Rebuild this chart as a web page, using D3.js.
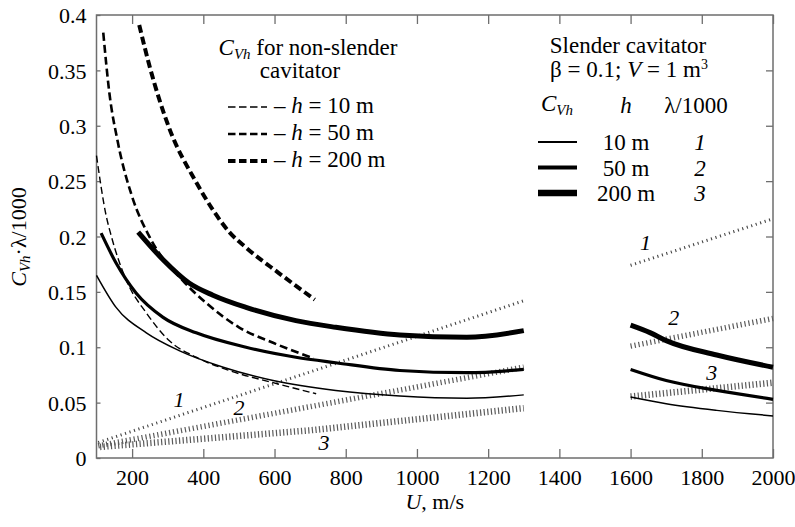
<!DOCTYPE html>
<html>
<head>
<meta charset="utf-8">
<script src="https://cdn.jsdelivr.net/npm/d3@7"></script>
<style>
  body { margin: 0; background: #fff; }
</style>
</head>
<body>
<div id="chart"></div>
<script>
// ---- data ----
const xTicks = [200, 400, 600, 800, 1000, 1200, 1400, 1600, 1800, 2000];
const yTicks = [0, 0.05, 0.1, 0.15, 0.2, 0.25, 0.3, 0.35, 0.4];

// slender cavitator C_Vh (solid), two segments each
const slender10a  = [[100,0.165],[155,0.136],[240,0.113],[332,0.097],[456,0.082],[596,0.070],[772,0.061],[952,0.056],[1140,0.054],[1300,0.057]];
const slender10b  = [[1600,0.055],[1700,0.049],[1842,0.043],[2000,0.038]];
const slender50a  = [[113,0.203],[155,0.176],[211,0.149],[287,0.127],[380,0.113],[520,0.100],[660,0.091],[772,0.086],[952,0.079],[1140,0.077],[1300,0.080]];
const slender50b  = [[1600,0.080],[1700,0.070],[1842,0.061],[2000,0.053]];
const slender200a = [[217,0.204],[287,0.179],[360,0.158],[427,0.147],[520,0.136],[660,0.124],[772,0.118],[952,0.111],[1140,0.109],[1300,0.115]];
const slender200b = [[1600,0.120],[1656,0.113],[1700,0.106],[1842,0.093],[2000,0.082]];

// non-slender cavitator C_Vh (dashed)
const blunt10  = [[100,0.273],[127,0.219],[141,0.201],[183,0.161],[240,0.131],[304,0.106],[380,0.091],[473,0.079],[596,0.068],[717,0.058]];
const blunt50  = [[119,0.384],[136,0.330],[160,0.285],[200,0.236],[250,0.199],[343,0.160],[408,0.140],[500,0.118],[596,0.104],[710,0.090]];
const blunt200 = [[220,0.391],[248,0.355],[304,0.298],[380,0.249],[427,0.224],[473,0.204],[520,0.190],[612,0.167],[713,0.143]];

// slender cavitator lambda/1000 (hatched)
const lam1a = [[105,0.014],[1300,0.142]];
const lam1b = [[1600,0.174],[2000,0.216]];
const lam2a = [[105,0.011],[1300,0.082]];
const lam2b = [[1600,0.101],[2000,0.126]];
const lam3a = [[110,0.010],[700,0.025],[1300,0.045]];
const lam3b = [[1600,0.0555],[2000,0.068]];

// curve labels 1,2,3 : [text, U, value]
const lamLabels = [["1",332,0.046],["2",500,0.039],["3",739,0.007],
                   ["1",1642,0.188],["2",1721,0.120],["3",1828,0.070]];

const bluntLegend   = ["10", "50", "200"];
const slenderLegend = [["10 m","1"],["50 m","2"],["200 m","3"]];

// ---- layout ----
const FONT = "Liberation Serif";
const margin = {top: 15, right: 22, bottom: 69, left: 96.5};
const W = 795 - margin.left - margin.right;
const H = 527 - margin.top - margin.bottom;

const svg = d3.select("#chart").append("svg")
  .attr("width", 795).attr("height", 527);

const g = svg.append("g")
  .attr("transform", `translate(${margin.left},${margin.top})`);

const x = d3.scaleLinear().domain([100, 2000]).range([0, W]);
const y = d3.scaleLinear().domain([0, 0.4]).range([H, 0]);

const frameCol = "#6e6e6e";

// axes with inward ticks
const xb = g.append("g").attr("transform", `translate(0,${H})`)
  .call(d3.axisBottom(x).tickValues(xTicks).tickSizeInner(-9).tickSizeOuter(0).tickPadding(11)
        .tickFormat(d3.format("d")));
const xt = g.append("g")
  .call(d3.axisTop(x).tickValues(xTicks).tickSizeInner(-9).tickSizeOuter(0).tickFormat(""));
const yl = g.append("g")
  .call(d3.axisLeft(y).tickValues(yTicks).tickSizeInner(-4).tickSizeOuter(0).tickPadding(10)
        .tickFormat(d => d3.format("~g")(d)));
const yr = g.append("g").attr("transform", `translate(${W},0)`)
  .call(d3.axisRight(y).tickValues(yTicks.slice(1, -1)).tickSizeInner(-7).tickSizeOuter(0).tickFormat(""));

[xb, xt, yl, yr].forEach(a => {
  a.attr("font-family", null).attr("font-size", null);
  a.select(".domain").remove();
  a.selectAll("line").attr("stroke", frameCol).attr("stroke-width", 1.3);
  a.selectAll("text").attr("fill", "#000").attr("font-size", 22);
});
yl.selectAll("text").attr("dy", "0.35em");

g.append("rect").attr("width", W).attr("height", H)
  .attr("fill", "none").attr("stroke", frameCol).attr("stroke-width", 1.5);

// axis titles
svg.append("text")
  .attr("x", margin.left + W / 2).attr("y", 509)
  .attr("text-anchor", "middle").attr("font-size", 22)
  .call(t => {
    t.append("tspan").attr("font-style", "italic").text("U");
    t.append("tspan").text(", m/s");
  });

svg.append("text")
  .attr("transform", "translate(26,237) rotate(-90)")
  .attr("text-anchor", "middle").attr("font-size", 22)
  .call(t => {
    t.append("tspan").attr("font-style", "italic").text("C");
    t.append("tspan").attr("font-style", "italic").attr("dy", 4).attr("font-size", 15).text("Vh");
    t.append("tspan").attr("dy", -4).text("\u00b7\u03bb/1000");
  });

// ---- curves ----
const line = d3.line().x(d => x(d[0])).y(d => y(d[1])).curve(d3.curveMonotoneX);
const straight = d3.line().x(d => x(d[0])).y(d => y(d[1]));

const plot = g.append("g");

function draw(data, gen, width, dash, col) {
  plot.append("path").datum(data)
    .attr("d", gen)
    .attr("fill", "none")
    .attr("stroke", col || "#000")
    .attr("stroke-width", width)
    .attr("stroke-dasharray", dash || null)
    .attr("stroke-linejoin", "round");
}

// lambda/1000 hatched lines
[lam1a, lam1b].forEach(d => draw(d, straight, 3, "1.1 3.6", "#444"));
[lam2a, lam2b].forEach(d => draw(d, straight, 5.5, "1.2 2.8", "#5a5a5a"));
[lam3a, lam3b].forEach(d => draw(d, straight, 6.5, "1.2 2.4", "#5a5a5a"));

// non-slender dashed
draw(blunt10, line, 1.4, "7 3.5");
draw(blunt50, line, 2.6, "8 4");
draw(blunt200, line, 4, "8 4");

// slender solid
[slender10a, slender10b].forEach(d => draw(d, line, 1.5));
[slender50a, slender50b].forEach(d => draw(d, line, 3.2));
[slender200a, slender200b].forEach(d => draw(d, line, 5));

// curve numbers
g.selectAll(".lamLabel").data(lamLabels).enter().append("text")
  .attr("class", "lamLabel")
  .attr("x", d => x(d[1])).attr("y", d => y(d[2]))
  .attr("text-anchor", "middle")
  .attr("font-style", "italic").attr("font-size", 22)
  .text(d => d[0]);

// ---- legend: non-slender ----
const legL = svg.append("g");
legL.append("text").attr("x", 308).attr("y", 55).attr("text-anchor", "middle").attr("font-size", 23)
  .call(t => {
    t.append("tspan").attr("font-style", "italic").text("C");
    t.append("tspan").attr("font-style", "italic").attr("dy", 4).attr("font-size", 15).text("Vh");
    t.append("tspan").attr("dy", -4).text(" for non-slender");
  });
legL.append("text").attr("x", 300).attr("y", 78).attr("text-anchor", "middle").attr("font-size", 23)
  .text("cavitator");

const dashW = [1.4, 2.6, 4];
bluntLegend.forEach((h, i) => {
  const yy = 107 + i * 27;
  legL.append("line").attr("x1", 228).attr("x2", 267).attr("y1", yy).attr("y2", yy)
    .attr("stroke", "#000").attr("stroke-width", dashW[i]).attr("stroke-dasharray", "7.5 3.5");
  legL.append("text").attr("x", 274).attr("y", yy + 6).attr("font-size", 23)
    .call(t => {
      t.append("tspan").text("\u2013 ");
      t.append("tspan").attr("font-style", "italic").text("h");
      t.append("tspan").text(" = " + h + " m");
    });
});

// ---- legend: slender ----
const legR = svg.append("g");
legR.append("text").attr("x", 628).attr("y", 53).attr("text-anchor", "middle").attr("font-size", 23)
  .text("Slender cavitator");
legR.append("text").attr("x", 629).attr("y", 77).attr("text-anchor", "middle").attr("font-size", 23)
  .call(t => {
    t.append("tspan").text("\u03b2 = 0.1; ");
    t.append("tspan").attr("font-style", "italic").text("V");
    t.append("tspan").text(" = 1 m");
    t.append("tspan").attr("dy", -8).attr("font-size", 14).text("3");
  });
legR.append("text").attr("x", 541).attr("y", 111).attr("font-size", 23)
  .call(t => {
    t.append("tspan").attr("font-style", "italic").text("C");
    t.append("tspan").attr("font-style", "italic").attr("dy", 4).attr("font-size", 15).text("Vh");
  });
legR.append("text").attr("x", 626).attr("y", 113).attr("text-anchor", "middle")
  .attr("font-style", "italic").attr("font-size", 23).text("h");
legR.append("text").attr("x", 696).attr("y", 113).attr("text-anchor", "middle")
  .attr("font-size", 23).text("\u03bb/1000");

const solidW = [1.8, 4, 6.5];
slenderLegend.forEach((d, i) => {
  const yy = 142 + i * 25.5;
  legR.append("line").attr("x1", 538).attr("x2", 577).attr("y1", yy).attr("y2", yy)
    .attr("stroke", "#000").attr("stroke-width", solidW[i]);
  legR.append("text").attr("x", 626).attr("y", yy + 8).attr("text-anchor", "middle")
    .attr("font-size", 23).text(d[0]);
  legR.append("text").attr("x", 700).attr("y", yy + 8).attr("text-anchor", "middle")
    .attr("font-style", "italic").attr("font-size", 23).text(d[1]);
});

// serif face on every text element itself
svg.selectAll("text, tspan").attr("font-family", FONT);
</script>
</body>
</html>
